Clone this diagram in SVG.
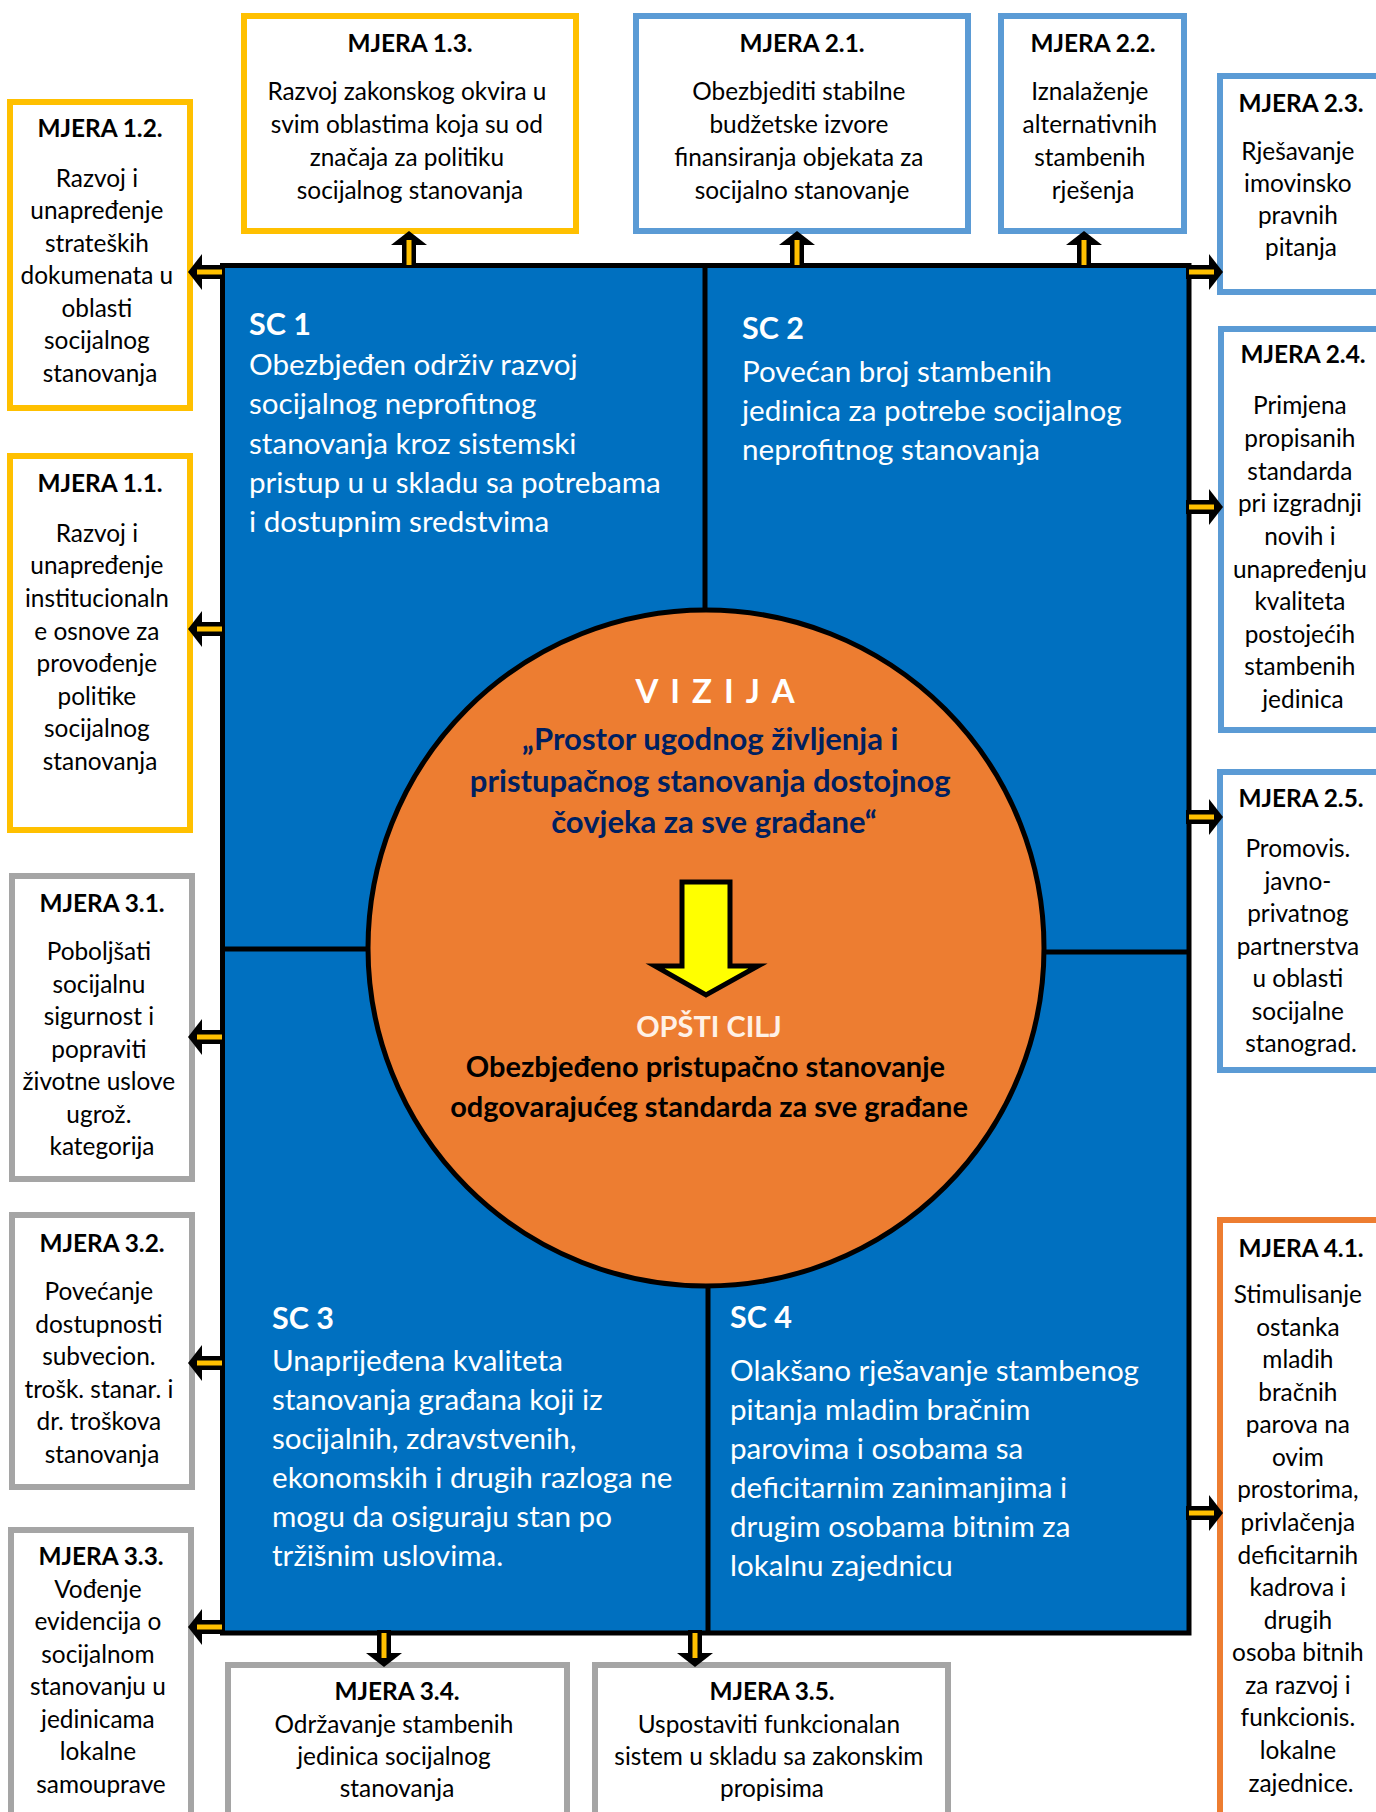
<svg xmlns="http://www.w3.org/2000/svg" xmlns:xlink="http://www.w3.org/1999/xlink" width="1376" height="1812" viewBox="0 0 1376 1812">
  <style>
    .box { fill: #ffffff; stroke-width: 6; }
    .yl { stroke: #FFC000; }
    .bl { stroke: #5B9BD5; }
    .gr { stroke: #A5A5A5; }
    .or { stroke: #ED7D31; }
    .t { font-family: Lato, "Open Sans", "Liberation Sans", sans-serif; font-size: 24.4px; fill: #000000; text-anchor: middle; }
    .hd { font-weight: bold; }
    .sc { font-family: Lato, "Open Sans", "Liberation Sans", sans-serif; font-size: 29.6px; fill: #ffffff; }
    .scl { font-weight: bold; font-size: 30.5px; }
    .vis { font-family: Lato, "Open Sans", "Liberation Sans", sans-serif; font-weight: bold; text-anchor: middle; }
    .div { stroke: #000000; stroke-width: 5; fill: none; }
  </style>
  <defs>
    <!-- block arrow pointing right, base at x=0, tip at x=34 -->
    <g id="arrow">
      <rect x="-3" y="-7" width="25" height="14" fill="#000000"/>
      <polygon points="20,-18 34,0 20,18" fill="#000000"/>
      <rect x="0" y="-2.5" width="25" height="5" fill="#FFC000"/>
    </g>
  </defs>
  <rect width="1376" height="1812" fill="#ffffff"/>

  <!-- central panel with four strategic goals -->
  <g id="panel">
    <rect x="222.5" y="265.5" width="966.5" height="1367.5" fill="#0070C0" stroke="#000000" stroke-width="5"/>
    <line class="div" x1="705" y1="266" x2="705" y2="610"/>
    <line class="div" x1="708" y1="1285" x2="708" y2="1633"/>
    <line class="div" x1="222" y1="949" x2="372" y2="949"/>
    <line class="div" x1="1040" y1="952" x2="1189" y2="952"/>
  </g>

  <g id="sc1">
    <text class="sc scl" x="249" y="335">SC 1</text>
    <text class="sc">
      <tspan x="249" y="375">Obezbjeđen održiv razvoj</tspan>
      <tspan x="249" y="414">socijalnog neprofitnog</tspan>
      <tspan x="249" y="454">stanovanja kroz sistemski</tspan>
      <tspan x="249" y="493">pristup u u skladu sa potrebama</tspan>
      <tspan x="249" y="532">i dostupnim sredstvima</tspan>
    </text>
  </g>
  <g id="sc2">
    <text class="sc scl" x="742" y="339">SC 2</text>
    <text class="sc">
      <tspan x="742" y="382">Povećan broj stambenih</tspan>
      <tspan x="742" y="421">jedinica za potrebe socijalnog</tspan>
      <tspan x="742" y="460">neprofitnog stanovanja</tspan>
    </text>
  </g>
  <g id="sc3">
    <text class="sc scl" x="272" y="1329">SC 3</text>
    <text class="sc">
      <tspan x="272" y="1371">Unaprijeđena kvaliteta</tspan>
      <tspan x="272" y="1410">stanovanja građana koji iz</tspan>
      <tspan x="272" y="1449">socijalnih, zdravstvenih,</tspan>
      <tspan x="272" y="1488">ekonomskih i drugih razloga ne</tspan>
      <tspan x="272" y="1527">mogu da osiguraju stan po</tspan>
      <tspan x="272" y="1566">tržišnim uslovima.</tspan>
    </text>
  </g>
  <g id="sc4">
    <text class="sc scl" x="730" y="1328">SC 4</text>
    <text class="sc">
      <tspan x="730" y="1381">Olakšano rješavanje stambenog</tspan>
      <tspan x="730" y="1420">pitanja mladim bračnim</tspan>
      <tspan x="730" y="1459">parovima i osobama sa</tspan>
      <tspan x="730" y="1498">deficitarnim zanimanjima i</tspan>
      <tspan x="730" y="1537">drugim osobama bitnim za</tspan>
      <tspan x="730" y="1576">lokalnu zajednicu</tspan>
    </text>
  </g>

  <!-- vision and general goal -->
  <g id="vision">
    <circle cx="706" cy="948" r="338" fill="#ED7D31" stroke="#000000" stroke-width="5"/>
    <text class="vis" x="721" y="703" font-size="33" fill="#ffffff" letter-spacing="12">VIZIJA</text>
    <text class="vis" font-size="31" fill="#002060">
      <tspan x="714" y="750">„Prostor ugodnog življenja i</tspan>
      <tspan x="714" y="792">pristupačnog stanovanja dostojnog</tspan>
      <tspan x="714" y="833">čovjeka za sve građane“</tspan>
    </text>
    <polygon points="682,882 730,882 730,966 758,966 706,995 655,966 682,966" fill="#FFFF00" stroke="#000000" stroke-width="5"/>
    <text class="vis" x="709" y="1037" font-size="29" fill="#FFF1E6">OPŠTI CILJ</text>
    <text class="vis" font-size="29" fill="#000000">
      <tspan x="709" y="1077">Obezbjeđeno pristupačno stanovanje</tspan>
      <tspan x="709" y="1117">odgovarajućeg standarda za sve građane</tspan>
    </text>
  </g>

  <!-- measures of goal 1 -->
  <g id="m13">
    <rect class="box yl" x="244" y="16" width="332" height="215"/>
    <text class="t hd" x="410" y="52">MJERA 1.3.</text>
    <text class="t">
      <tspan x="410" y="100">Razvoj zakonskog okvira u</tspan>
      <tspan x="410" y="133">svim oblastima koja su od</tspan>
      <tspan x="410" y="166">značaja za politiku</tspan>
      <tspan x="410" y="199">socijalnog stanovanja</tspan>
    </text>
  </g>
  <g id="m12">
    <rect class="box yl" x="10" y="102" width="180" height="306"/>
    <text class="t hd" x="100" y="137">MJERA 1.2.</text>
    <text class="t">
      <tspan x="100" y="187">Razvoj i</tspan>
      <tspan x="100" y="219">unapređenje</tspan>
      <tspan x="100" y="252">strateških</tspan>
      <tspan x="100" y="284">dokumenata u</tspan>
      <tspan x="100" y="317">oblasti</tspan>
      <tspan x="100" y="349">socijalnog</tspan>
      <tspan x="100" y="382">stanovanja</tspan>
    </text>
  </g>
  <g id="m11">
    <rect class="box yl" x="10" y="456" width="180" height="374"/>
    <text class="t hd" x="100" y="492">MJERA 1.1.</text>
    <text class="t">
      <tspan x="100" y="542">Razvoj i</tspan>
      <tspan x="100" y="574">unapređenje</tspan>
      <tspan x="100" y="607">institucionaln</tspan>
      <tspan x="100" y="640">e osnove za</tspan>
      <tspan x="100" y="672">provođenje</tspan>
      <tspan x="100" y="705">politike</tspan>
      <tspan x="100" y="737">socijalnog</tspan>
      <tspan x="100" y="770">stanovanja</tspan>
    </text>
  </g>

  <!-- measures of goal 2 -->
  <g id="m21">
    <rect class="box bl" x="636" y="16" width="332" height="215"/>
    <text class="t hd" x="802" y="52">MJERA 2.1.</text>
    <text class="t">
      <tspan x="802" y="100">Obezbjediti stabilne</tspan>
      <tspan x="802" y="133">budžetske izvore</tspan>
      <tspan x="802" y="166">finansiranja objekata  za</tspan>
      <tspan x="802" y="199">socijalno stanovanje</tspan>
    </text>
  </g>
  <g id="m22">
    <rect class="box bl" x="1001" y="16" width="183" height="215"/>
    <text class="t hd" x="1093" y="52">MJERA 2.2.</text>
    <text class="t">
      <tspan x="1093" y="100">Iznalaženje</tspan>
      <tspan x="1093" y="133">alternativnih</tspan>
      <tspan x="1093" y="166">stambenih</tspan>
      <tspan x="1093" y="199">rješenja</tspan>
    </text>
  </g>
  <g id="m23">
    <rect class="box bl" x="1220" y="76" width="180" height="216"/>
    <text class="t hd" x="1301" y="112">MJERA 2.3.</text>
    <text class="t">
      <tspan x="1301" y="160">Rješavanje</tspan>
      <tspan x="1301" y="192">imovinsko</tspan>
      <tspan x="1301" y="224">pravnih</tspan>
      <tspan x="1301" y="256">pitanja</tspan>
    </text>
  </g>
  <g id="m24">
    <rect class="box bl" x="1221" y="329" width="180" height="401"/>
    <text class="t hd" x="1303" y="363">MJERA 2.4.</text>
    <text class="t">
      <tspan x="1303" y="414">Primjena</tspan>
      <tspan x="1303" y="447">propisanih</tspan>
      <tspan x="1303" y="480">standarda</tspan>
      <tspan x="1303" y="512">pri izgradnji</tspan>
      <tspan x="1303" y="545">novih i</tspan>
      <tspan x="1303" y="578">unapređenju</tspan>
      <tspan x="1303" y="610">kvaliteta</tspan>
      <tspan x="1303" y="643">postojećih</tspan>
      <tspan x="1303" y="675">stambenih</tspan>
      <tspan x="1303" y="708">jedinica</tspan>
    </text>
  </g>
  <g id="m25">
    <rect class="box bl" x="1220" y="772" width="180" height="298"/>
    <text class="t hd" x="1301" y="807">MJERA 2.5.</text>
    <text class="t">
      <tspan x="1301" y="857">Promovis.</tspan>
      <tspan x="1301" y="890">javno-</tspan>
      <tspan x="1301" y="922">privatnog</tspan>
      <tspan x="1301" y="955">partnerstva</tspan>
      <tspan x="1301" y="987">u oblasti</tspan>
      <tspan x="1301" y="1020">socijalne</tspan>
      <tspan x="1301" y="1052">stanograd.</tspan>
    </text>
  </g>

  <!-- measures of goal 3 -->
  <g id="m31">
    <rect class="box gr" x="12" y="876" width="180" height="303"/>
    <text class="t hd" x="102" y="912">MJERA 3.1.</text>
    <text class="t">
      <tspan x="102" y="960">Poboljšati</tspan>
      <tspan x="102" y="993">socijalnu</tspan>
      <tspan x="102" y="1025">sigurnost i</tspan>
      <tspan x="102" y="1058">popraviti</tspan>
      <tspan x="102" y="1090">životne uslove</tspan>
      <tspan x="102" y="1123">ugrož.</tspan>
      <tspan x="102" y="1155">kategorija</tspan>
    </text>
  </g>
  <g id="m32">
    <rect class="box gr" x="12" y="1215" width="180" height="272"/>
    <text class="t hd" x="102" y="1252">MJERA 3.2.</text>
    <text class="t">
      <tspan x="102" y="1300">Povećanje</tspan>
      <tspan x="102" y="1333">dostupnosti</tspan>
      <tspan x="102" y="1365">subvecion.</tspan>
      <tspan x="102" y="1398">trošk. stanar. i</tspan>
      <tspan x="102" y="1430">dr. troškova</tspan>
      <tspan x="102" y="1463">stanovanja</tspan>
    </text>
  </g>
  <g id="m33">
    <rect class="box gr" x="11" y="1530" width="180" height="300"/>
    <text class="t hd" x="101" y="1565">MJERA 3.3.</text>
    <text class="t">
      <tspan x="101" y="1598">Vođenje</tspan>
      <tspan x="101" y="1630">evidencija o</tspan>
      <tspan x="101" y="1663">socijalnom</tspan>
      <tspan x="101" y="1695">stanovanju u</tspan>
      <tspan x="101" y="1728">jedinicama</tspan>
      <tspan x="101" y="1760">lokalne</tspan>
      <tspan x="101" y="1793">samouprave</tspan>
    </text>
  </g>
  <g id="m34">
    <rect class="box gr" x="228" y="1665" width="339" height="200"/>
    <text class="t hd" x="397" y="1700">MJERA 3.4.</text>
    <text class="t">
      <tspan x="397" y="1733">Održavanje stambenih</tspan>
      <tspan x="397" y="1765">jedinica socijalnog</tspan>
      <tspan x="397" y="1797">stanovanja</tspan>
    </text>
  </g>
  <g id="m35">
    <rect class="box gr" x="595" y="1665" width="353" height="200"/>
    <text class="t hd" x="772" y="1700">MJERA 3.5.</text>
    <text class="t">
      <tspan x="772" y="1733">Uspostaviti funkcionalan</tspan>
      <tspan x="772" y="1765">sistem u skladu sa zakonskim</tspan>
      <tspan x="772" y="1797">propisima</tspan>
    </text>
  </g>

  <!-- measure of goal 4 -->
  <g id="m41">
    <rect class="box or" x="1220" y="1220" width="180" height="620"/>
    <text class="t hd" x="1301" y="1257">MJERA 4.1.</text>
    <text class="t">
      <tspan x="1301" y="1303">Stimulisanje</tspan>
      <tspan x="1301" y="1336">ostanka</tspan>
      <tspan x="1301" y="1368">mladih</tspan>
      <tspan x="1301" y="1401">bračnih</tspan>
      <tspan x="1301" y="1433">parova na</tspan>
      <tspan x="1301" y="1466">ovim</tspan>
      <tspan x="1301" y="1498">prostorima,</tspan>
      <tspan x="1301" y="1531">privlačenja</tspan>
      <tspan x="1301" y="1564">deficitarnih</tspan>
      <tspan x="1301" y="1596">kadrova i</tspan>
      <tspan x="1301" y="1629">drugih</tspan>
      <tspan x="1301" y="1661">osoba bitnih</tspan>
      <tspan x="1301" y="1694">za razvoj i</tspan>
      <tspan x="1301" y="1726">funkcionis.</tspan>
      <tspan x="1301" y="1759">lokalne</tspan>
      <tspan x="1301" y="1792">zajednice.</tspan>
    </text>
  </g>

  <!-- connectors from the panel to each measure -->
  <g id="connectors">
    <use xlink:href="#arrow" transform="translate(409,265) rotate(-90)"/>
    <use xlink:href="#arrow" transform="translate(797,265) rotate(-90)"/>
    <use xlink:href="#arrow" transform="translate(1084,265) rotate(-90)"/>
    <use xlink:href="#arrow" transform="translate(222,272) rotate(180)"/>
    <use xlink:href="#arrow" transform="translate(222,629) rotate(180)"/>
    <use xlink:href="#arrow" transform="translate(222,1037) rotate(180)"/>
    <use xlink:href="#arrow" transform="translate(222,1363) rotate(180)"/>
    <use xlink:href="#arrow" transform="translate(222,1627) rotate(180)"/>
    <use xlink:href="#arrow" transform="translate(1189,272)"/>
    <use xlink:href="#arrow" transform="translate(1189,507)"/>
    <use xlink:href="#arrow" transform="translate(1189,817)"/>
    <use xlink:href="#arrow" transform="translate(1189,1513)"/>
    <use xlink:href="#arrow" transform="translate(384,1633) rotate(90)"/>
    <use xlink:href="#arrow" transform="translate(695,1633) rotate(90)"/>
  </g>
</svg>
